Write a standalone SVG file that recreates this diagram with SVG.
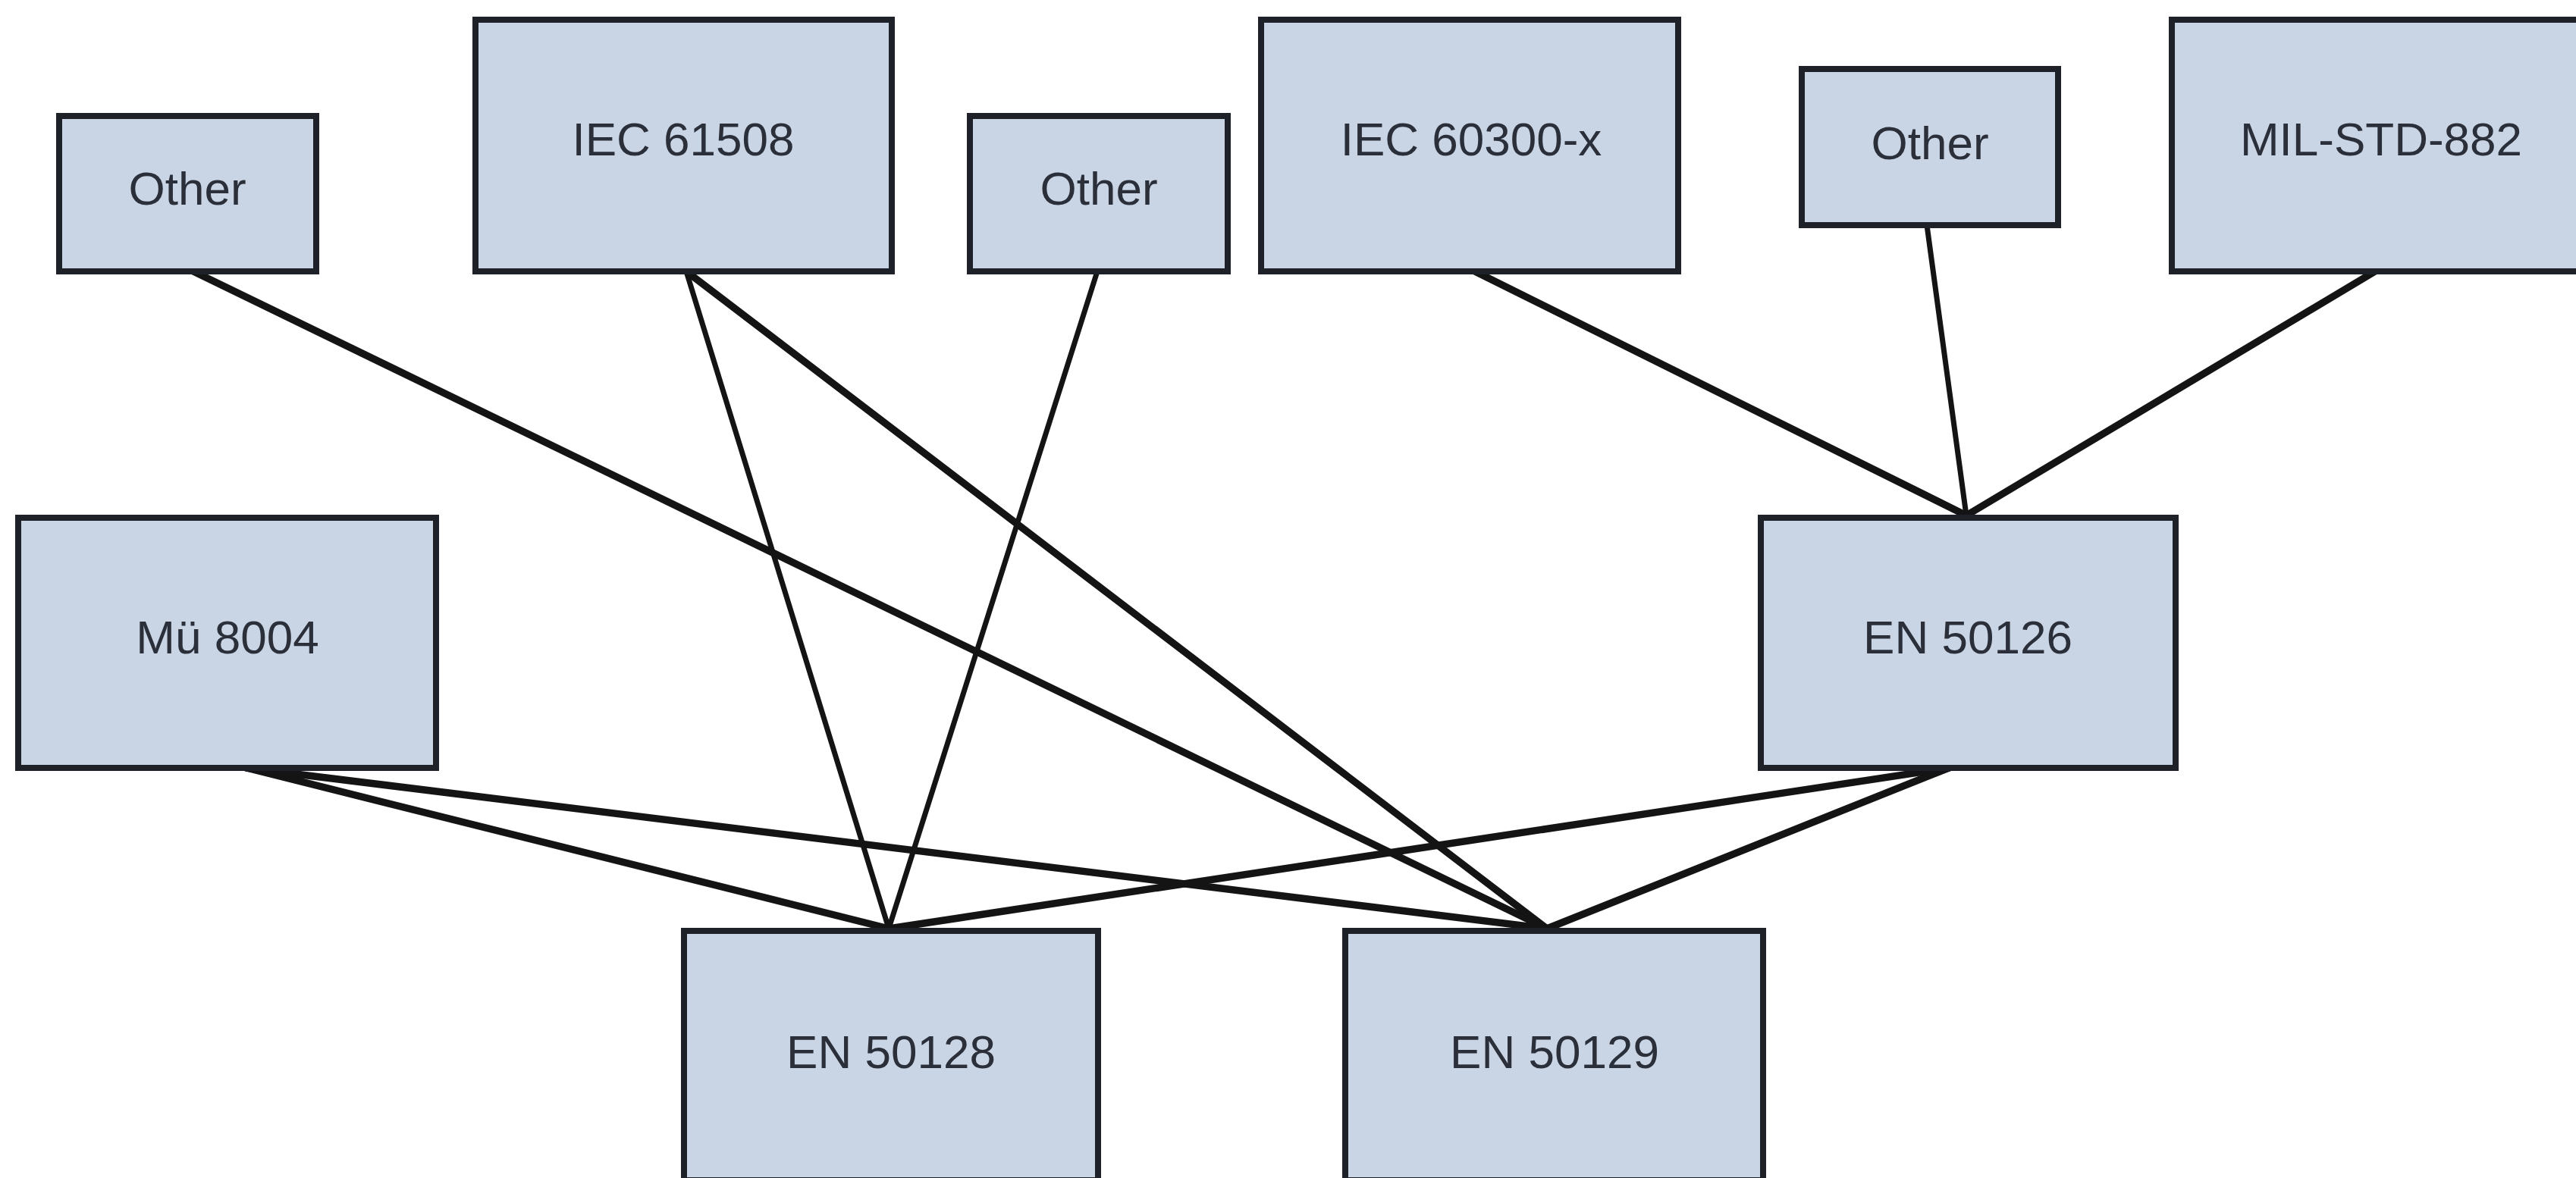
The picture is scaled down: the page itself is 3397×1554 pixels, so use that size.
<svg xmlns="http://www.w3.org/2000/svg" width="3397" height="1554" viewBox="0 0 3397 1554">
<style>
.box{fill:#c9d5e4;stroke:#1e2128;stroke-width:8}
.lbl{font-family:"Liberation Sans",Arial,sans-serif;font-size:62px;fill:#2a2f3a;text-anchor:middle}
.thick{stroke:#141414;stroke-width:9.5;fill:none;stroke-linecap:round}
.thin{stroke:#141414;stroke-width:7;fill:none;stroke-linecap:round}
</style>
<rect width="3397" height="1554" fill="#ffffff"/>
<g id="connectors">
<line class="thick" x1="255" y1="358" x2="2040" y2="1225"/>
<line class="thin" x1="905" y1="358" x2="1172" y2="1225"/>
<line class="thick" x1="905" y1="358" x2="2040" y2="1225"/>
<line class="thin" x1="1447" y1="358" x2="1172" y2="1225"/>
<line class="thick" x1="1945" y1="358" x2="2593" y2="680"/>
<line class="thin" x1="2541" y1="297" x2="2593" y2="680"/>
<line class="thick" x1="3132" y1="358" x2="2593" y2="680"/>
<line class="thick" x1="325" y1="1013" x2="1172" y2="1225"/>
<line class="thick" x1="325" y1="1013" x2="2040" y2="1225"/>
<line class="thick" x1="2570" y1="1013" x2="1172" y2="1225"/>
<line class="thick" x1="2570" y1="1013" x2="2040" y2="1225"/>
</g>
<g id="other1"><rect class="box" x="78" y="153" width="339" height="205"/><text class="lbl" x="247" y="270">Other</text></g>
<g id="iec61508"><rect class="box" x="627" y="26" width="549" height="332"/><text class="lbl" x="901" y="205">IEC 61508</text></g>
<g id="other2"><rect class="box" x="1279" y="153" width="340" height="205"/><text class="lbl" x="1449" y="270">Other</text></g>
<g id="iec60300"><rect class="box" x="1663" y="26" width="550" height="332"/><text class="lbl" x="1940" y="205">IEC 60300-x</text></g>
<g id="other3"><rect class="box" x="2376" y="91" width="338" height="206"/><text class="lbl" x="2545" y="210">Other</text></g>
<g id="milstd882"><rect class="box" x="2864" y="26" width="560" height="332"/><text class="lbl" x="3140" y="205">MIL-STD-882</text></g>
<g id="mu8004"><rect class="box" x="24" y="683" width="551" height="330"/><text class="lbl" x="300" y="862">Mü 8004</text></g>
<g id="en50126"><rect class="box" x="2322" y="683" width="547" height="330"/><text class="lbl" x="2595" y="862">EN 50126</text></g>
<g id="en50128"><rect class="box" x="902" y="1228" width="546" height="329"/><text class="lbl" x="1175" y="1409">EN 50128</text></g>
<g id="en50129"><rect class="box" x="1774" y="1228" width="551" height="329"/><text class="lbl" x="2050" y="1409">EN 50129</text></g>
</svg>
